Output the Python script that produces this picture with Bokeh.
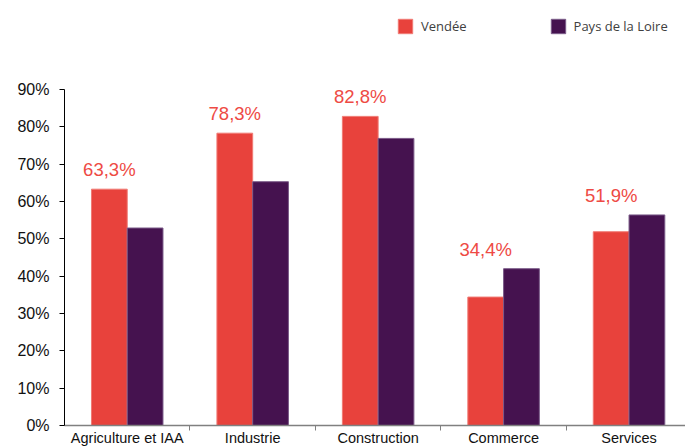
import numpy as np
from bokeh.plotting import figure
from bokeh.models import ColumnDataSource, FixedTicker, PrintfTickFormatter, Range1d
from bokeh.transform import dodge
from bokeh.core.properties import value
from bokeh.embed import file_html
from bokeh.resources import INLINE

categories = ["Agriculture et IAA", "Industrie", "Construction", "Commerce", "Services"]
vendee = [63.3, 78.3, 82.8, 34.4, 51.9]
pays_loire = [52.9, 65.3, 76.9, 42.0, 56.4]
y_ticks = [0, 10, 20, 30, 40, 50, 60, 70, 80, 90]
series_names = ["Vendée", "Pays de la Loire"]

RED = "#E8423C"
PURPLE = "#45124F"

centers = [i + 0.5 for i in range(len(categories))]
src = ColumnDataSource(dict(
    x=centers,
    vendee=vendee,
    pays=pays_loire,
    label_y=list(np.maximum(vendee, pays_loire)),
    lab=[("%.1f" % v).replace(".", ",") + "%" for v in vendee],
))

# frame spans the full height so the legend can sit above the 90% tick
p = figure(width=685, height=448, output_backend="svg", toolbar_location=None,
           x_range=Range1d(0, 4.95), y_range=Range1d(0, 113.84),
           min_border_left=64, min_border_right=0, min_border_top=0, min_border_bottom=23)

bw = 0.285
r1 = p.vbar(x=dodge("x", -bw / 2, range=p.x_range), top="vendee", width=bw, source=src,
            fill_color=RED, line_color="#F07A74", line_width=1, legend_label=series_names[0])
r2 = p.vbar(x=dodge("x", bw / 2, range=p.x_range), top="pays", width=bw, source=src,
            fill_color=PURPLE, line_color="#7A5A88", line_width=1, legend_label=series_names[1])

p.text(x=dodge("x", -bw / 2, range=p.x_range), y="label_y", text="lab", source=src,
       y_offset=-9, text_align="center", text_baseline="bottom",
       text_font=value("Liberation Sans"), text_font_size="18.5px", text_color="#EE4A44")

p.xgrid.visible = False
p.ygrid.visible = False
p.outline_line_color = None

xax = p.xaxis[0]
xax.ticker = FixedTicker(ticks=centers, minor_ticks=[1, 2, 3, 4])
xax.major_label_overrides = {c: categories[i] for i, c in enumerate(centers)}
xax.major_tick_out = 0
xax.major_tick_in = 0
xax.minor_tick_out = 5
xax.minor_tick_in = 0
xax.minor_tick_line_color = "#808080"
xax.axis_line_color = "#808080"
xax.axis_line_width = 1.5
xax.major_label_standoff = -1
xax.major_label_text_font = "Liberation Sans"
xax.major_label_text_font_size = "14.5px"
xax.major_label_text_color = "#111111"

yax = p.yaxis[0]
yax.bounds = (0, 90)
yax.ticker = FixedTicker(ticks=y_ticks, minor_ticks=[])
yax.formatter = PrintfTickFormatter(format="%d%%")
yax.major_tick_out = 5
yax.major_tick_in = 0
yax.minor_tick_out = 0
yax.minor_tick_in = 0
yax.axis_line_color = "#000000"
yax.major_tick_line_color = "#000000"
yax.major_label_standoff = 10
yax.major_label_text_font = "Liberation Sans"
yax.major_label_text_font_size = "16px"
yax.major_label_text_color = "#111111"

lg = p.legend[0]
lg.location = (332, 390)
lg.orientation = "horizontal"
lg.padding = 0
lg.margin = 0
lg.spacing = 82
lg.glyph_width = 18
lg.glyph_height = 18
lg.label_height = 18
lg.label_standoff = 7
lg.label_text_font = "Open Sans"
lg.label_text_font_size = "13px"
lg.label_text_color = "#404040"
lg.background_fill_alpha = 0
lg.border_line_color = None

open("out.html", "w").write(file_html(p, INLINE))
